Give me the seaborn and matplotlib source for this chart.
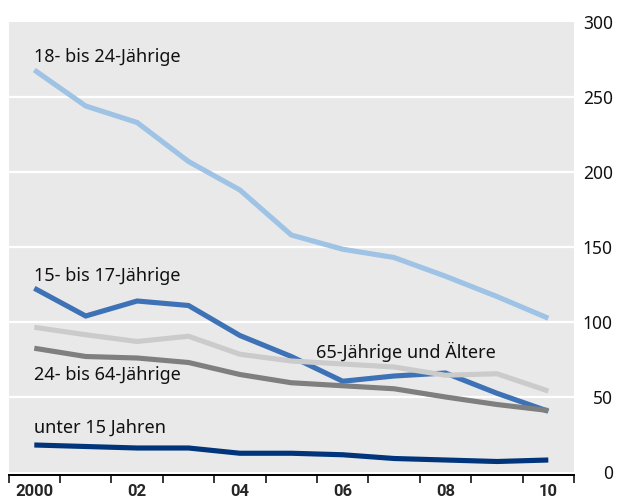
import matplotlib
matplotlib.use("Agg")
import matplotlib.pyplot as plt
from matplotlib.ticker import FixedLocator, NullFormatter
import numpy as np
import pandas as pd
import seaborn as sns

# Jahre (2000-2010)
years = list(range(2000, 2011))
year_labels = ["2000", "02", "04", "06", "08", "10"]

# Werte je Altersgruppe
age_18_24 = [268, 244, 233, 207, 188, 158, 148.5, 143, 130.5, 117, 102.5]
age_15_17 = [122.5, 104, 114, 111, 91, 77, 60.5, 64, 66, 52.5, 40.5]
age_65_plus = [96.5, 91.5, 87, 90.5, 78.5, 74, 72, 70, 64.5, 65.5, 54]
age_24_64 = [82.5, 77, 76, 73, 65, 59.5, 57.5, 55.5, 50, 45, 41]
age_under_15 = [18, 17, 16, 16, 12.5, 12.5, 11.5, 9, 8, 7, 8]

series_names = ["18- bis 24-Jährige", "15- bis 17-Jährige", "65-Jährige und Ältere",
                "24- bis 64-Jährige", "unter 15 Jahren"]
series_values = [age_18_24, age_15_17, age_65_plus, age_24_64, age_under_15]
palette = ["#9fc3e5", "#3e72b6", "#cbcbcb", "#7f7f7f", "#00347b"]

df = pd.DataFrame({
    "idx": np.tile(np.arange(len(years)), len(series_names)),
    "wert": np.concatenate(series_values),
    "gruppe": np.repeat(series_names, len(years)),
})

sns.set_theme(style="white")
plt.rcParams["font.family"] = ["Noto Sans", "DejaVu Sans"]

fig = plt.figure(figsize=(6.17, 4.99), dpi=100)
ax = fig.add_axes([8.6 / 617, 27 / 499, (574 - 8.6) / 617, (472 - 22) / 499])
ax.set_facecolor("#e9e9e9")

# weiße Gitterlinien
for v in [50, 100, 150, 200, 250]:
    ax.axhline(v, color="white", lw=1.6, zorder=1)

sns.lineplot(data=df, x="idx", y="wert", hue="gruppe", hue_order=series_names,
             palette=palette, linewidth=3.7, legend=False, ax=ax, zorder=3)
for line in ax.get_lines():
    line.set_solid_capstyle("butt")
    line.set_solid_joinstyle("miter")

ax.set_xlim(-0.5, 10.5)
ax.set_ylim(0, 300)
ax.set_xlabel("")
ax.set_ylabel("")

for side in ["top", "left", "right"]:
    ax.spines[side].set_visible(False)
ax.spines["bottom"].set_color("black")
ax.spines["bottom"].set_linewidth(1.4)
ax.spines["bottom"].set_position(("outward", 2))

# x-Achse: Striche an den Jahresgrenzen, Beschriftung in der Mitte
ax.xaxis.set_major_locator(FixedLocator(np.arange(-0.5, 11, 1)))
ax.xaxis.set_major_formatter(NullFormatter())
ax.xaxis.set_minor_locator(FixedLocator(np.arange(0, 11, 2)))
ax.set_xticklabels(year_labels, minor=True)
ax.tick_params(axis="x", which="major", direction="out", length=5.5, width=1.1,
               color="black", bottom=True)
ax.tick_params(axis="x", which="minor", length=0, pad=6.5, labelsize=11.5)

# y-Achse rechts, rechtsbündig
ax.yaxis.tick_right()
ax.set_yticks([0, 50, 100, 150, 200, 250, 300])
ax.tick_params(axis="y", length=0, pad=28, labelsize=12.5, labelcolor="#111111")

# Beschriftungen der Linien
label_pos = {
    "18- bis 24-Jährige": (0, 273),
    "15- bis 17-Jährige": (0, 127.5),
    "65-Jährige und Ältere": (5.48, 75.8),
    "24- bis 64-Jährige": (0, 61),
    "unter 15 Jahren": (0, 26),
}
for name, (x, y) in label_pos.items():
    ax.text(x, y, name, fontsize=13, color="#111111", ha="left", va="baseline", zorder=4)

fig.canvas.draw()
for t in ax.get_xticklabels(minor=True):
    t.set_fontfamily(["Roboto", "DejaVu Sans"])
    t.set_fontweight("bold")
    t.set_fontsize(12)
for t in ax.get_yticklabels():
    t.set_horizontalalignment("right")

fig.savefig("out.png", dpi=100)
